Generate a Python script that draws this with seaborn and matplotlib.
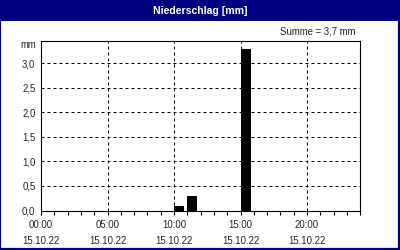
import numpy as np
import pandas as pd
import matplotlib
matplotlib.use("Agg")
import matplotlib.pyplot as plt
from matplotlib.patches import Rectangle
import seaborn as sns

# ---- data ----
hours = list(range(24))
precip = [0, 0, 0, 0, 0, 0, 0, 0, 0, 0, 0.1, 0.3, 0, 0, 0, 3.3, 0, 0, 0, 0, 0, 0, 0, 0]
tick_hours = [0, 5, 10, 15, 20]
tick_labels = ["00:00\n15.10.22", "05:00\n15.10.22", "10:00\n15.10.22",
               "15:00\n15.10.22", "20:00\n15.10.22"]
y_ticks = [0.0, 0.5, 1.0, 1.5, 2.0, 2.5, 3.0]
title = "Niederschlag [mm]"
summe = "Summe = 3,7 mm"
unit = "mm"

NAVY = "#000080"
sns.set_style("white")
plt.rcParams["font.family"] = ["Liberation Sans", "DejaVu Sans"]

bar_width = 0.75
df = pd.DataFrame({"start": np.array(hours, dtype=float) + bar_width / 2, "mm": precip})

fig = plt.figure(figsize=(4, 2.5), dpi=100)
ax = fig.add_axes([41 / 400, (250 - 210.5) / 250, (360.3 - 41) / 400, (210.5 - 41) / 250])

sns.barplot(data=df, x="start", y="mm", native_scale=True, width=bar_width,
            color="black", edgecolor="none", saturation=1, errorbar=None, ax=ax)

ax.set_xlim(0, 24)
ax.set_ylim(0, 3.455)
ax.set_xlabel("")
ax.set_ylabel("")

ax.set_xticks(tick_hours)
ax.set_xticklabels(tick_labels, fontsize=6.9, linespacing=1.85)
ax.set_xticks(hours + [24], minor=True)
ax.tick_params(axis="x", which="both", direction="out", length=3, width=0.8,
               color="black", pad=3.5, bottom=True)
ax.set_yticks(y_ticks)
ax.set_yticklabels([f"{v:.1f}".replace(".", ",") for v in y_ticks], fontsize=6.9)
ax.tick_params(axis="y", length=0, pad=4)

ax.grid(True, axis="both", which="major", color="black", linewidth=0.72,
        linestyle=(0, (3, 3)))
ax.set_axisbelow(False)
for s in ax.spines.values():
    s.set_color("black")
    s.set_linewidth(0.8)

ax.text(-0.015, 0.975, unit, transform=ax.transAxes, ha="right", va="center",
        fontsize=6.9)

# title bar and frame
fig.patches.append(Rectangle((0, 1 - 20.5 / 250), 1, 20.5 / 250, transform=fig.transFigure,
                             facecolor=NAVY, edgecolor="none", zorder=0))
fig.patches.append(Rectangle((0.001, 0.003), 0.997, 0.995, transform=fig.transFigure,
                             facecolor="none", edgecolor=NAVY, linewidth=1.6, zorder=5))
fig.text(0.5, 1 - 10.5 / 250, title, ha="center", va="center", color="white",
         fontsize=7.6, fontweight="bold")
fig.text(355 / 400, 1 - 31.5 / 250, summe, ha="right", va="center", fontsize=6.9)

fig.savefig("out.png", dpi=100)
